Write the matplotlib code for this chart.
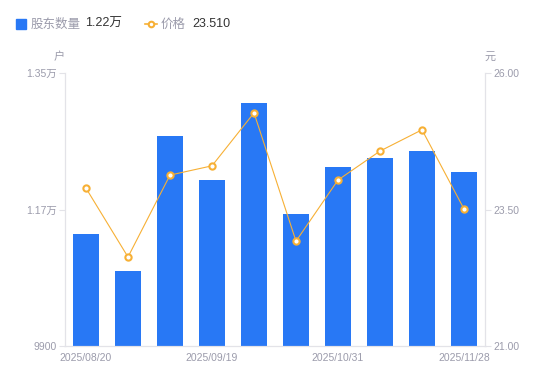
import matplotlib
matplotlib.use("Agg")
import matplotlib.pyplot as plt
from matplotlib.lines import Line2D
from matplotlib.patches import Rectangle

plt.rcParams['font.family'] = ['Liberation Sans', 'Noto Sans CJK SC', 'DejaVu Sans']
CJK = ['Noto Sans CJK SC', 'DejaVu Sans']

# datos
fechas = ['2025/08/20', '2025/08/29', '2025/09/10', '2025/09/19', '2025/09/30',
          '2025/10/20', '2025/10/31', '2025/11/10', '2025/11/20', '2025/11/28']
accionistas = [11380, 10890, 12670, 12090, 13100, 11640, 12260, 12380, 12470, 12200]
precio = [23.89, 22.63, 24.13, 24.30, 25.27, 22.92, 24.04, 24.57, 24.96, 23.51]
ticks_izq = [9900, 11700, 13500]
etiquetas_izq = ['9900', '1.17万', '1.35万']
ticks_der = [21.0, 23.5, 26.0]

AZUL = '#2878F5'
NARANJA = '#F7B035'
GRIS = '#9B9BAB'
EJE = '#E3E3E8'

W, H = 550, 381
fig = plt.figure(figsize=(W / 100, H / 100), dpi=100)
ax = fig.add_axes([65 / W, (H - 346) / H, 420 / W, 273 / H])
ax2 = ax.twinx()

x = list(range(len(fechas)))
ax.bar(x, accionistas, width=0.6, color=AZUL, zorder=2)
ax.set_xlim(-0.5, len(fechas) - 0.5)
ax.set_ylim(ticks_izq[0], ticks_izq[-1])
ax.set_yticks(ticks_izq)
ax.set_yticklabels(etiquetas_izq)

ax2.plot(x, precio, color=NARANJA, lw=0.8, marker='o', ms=4.5, mfc='white',
         mec=NARANJA, mew=1.5, zorder=3)
ax2.set_ylim(ticks_der[0], ticks_der[-1])
ax2.set_yticks(ticks_der)
ax2.set_yticklabels([f'{v:.2f}' for v in ticks_der])

ax.set_xticks(x[::3])
ax.set_xticklabels(fechas[::3])

for a in (ax, ax2):
    a.spines['top'].set_visible(False)
    a.spines['left'].set_color(EJE)
    a.spines['right'].set_color(EJE)
    a.spines['bottom'].set_color(EJE)
    a.tick_params(axis='y', colors=EJE, labelcolor=GRIS, labelsize=7.5, length=4, width=0.8, pad=2)
    a.tick_params(axis='x', length=0, labelcolor=GRIS, labelsize=7.5, pad=5)

# unidades
fig.text(59 / W, 1 - 57 / H, '户', color=GRIS, fontsize=8, ha='center', va='center', family=CJK)
fig.text(490 / W, 1 - 57 / H, '元', color=GRIS, fontsize=8, ha='center', va='center', family=CJK)

# leyenda
fig.patches.append(Rectangle((16 / W, 1 - 29 / H), 10 / W, 10 / H, transform=fig.transFigure,
                             color=AZUL, zorder=5))
fig.text(31 / W, 1 - 24 / H, '股东数量', color=GRIS, fontsize=9, va='center', family=CJK)
fig.text(85 / W, 1 - 24 / H, '1.22万', color='#333333', fontsize=9, va='center')
fig.lines.append(Line2D([145 / W, 157 / W], [1 - 24 / H, 1 - 24 / H], transform=fig.transFigure,
                        color=NARANJA, lw=1.2))
fig.lines.append(Line2D([151 / W], [1 - 24 / H], transform=fig.transFigure, marker='o', ms=4,
                        mfc='white', mec=NARANJA, mew=1.5))
fig.text(161 / W, 1 - 24 / H, '价格', color=GRIS, fontsize=9, va='center', family=CJK)
fig.text(192 / W, 1 - 24 / H, '23.510', color='#333333', fontsize=9, va='center')

fig.savefig('out.png', dpi=100)
